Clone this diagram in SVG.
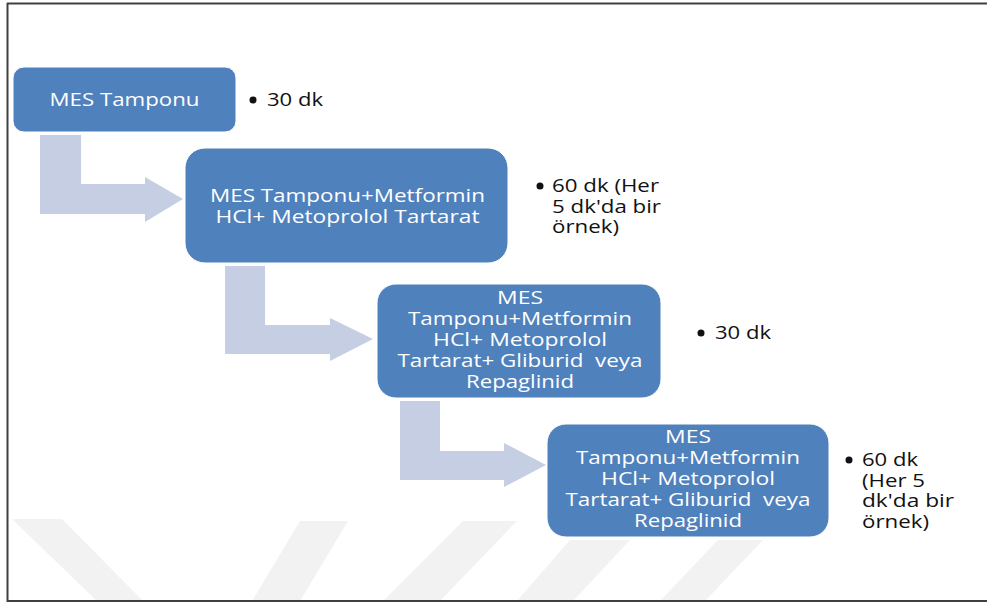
<svg xmlns="http://www.w3.org/2000/svg" width="987" height="603" viewBox="0 0 987 603">
<style>
  .box { fill: #4F81BD; stroke: #FFFFFF; stroke-width: 1; }
  .arrow { fill: #C5CEE2; stroke: none; }
  .bt { font-family: "Open Sans", "DejaVu Sans", sans-serif; font-size: 19px; fill: #FFFFFF; text-anchor: middle; white-space: pre; }
  .lt { font-family: "Open Sans", "DejaVu Sans", sans-serif; font-size: 19px; fill: #111111; white-space: pre; }
  .dot { fill: #111111; }
  .wm { fill: #F2F2F2; }
  .frame { stroke: #404040; stroke-width: 2; fill: none; }
</style>
<rect x="0" y="0" width="987" height="603" fill="#FFFFFF"/>
<g id="watermark">
  <polygon class="wm" points="12,519 62,519 143,601 97,601"/>
  <polygon class="wm" points="300,521 348,521 300,601 252,601"/>
  <polygon class="wm" points="463,521 517,521 440,601 383,601"/>
  <polygon class="wm" points="570,540 630,540 573,601 517,601"/>
  <polygon class="wm" points="718,540 763,540 705,601 660,601"/>
</g>
<g id="frame">
  <line class="frame" x1="7" y1="3.5" x2="987" y2="3.5"/>
  <line class="frame" x1="7.5" y1="3" x2="7.5" y2="602"/>
  <line class="frame" x1="7" y1="601" x2="987" y2="601"/>
</g>
<g id="connectors">
  <polygon class="arrow" points="40,135 81,135 81,184 145,184 145,177 183,199 145,222 145,214 40,214"/>
  <polygon class="arrow" points="225,266 265,266 265,325 330,325 330,318 373,339 330,361 330,354 225,354"/>
  <polygon class="arrow" points="400,401 440,401 440,451 504,451 504,443 546,465 504,487 504,480 400,480"/>
</g>
<g id="node1">
  <rect class="box" x="13" y="67" width="223" height="65" rx="11" ry="11"/>
  <text class="bt" x="124.5" y="106" textLength="150" lengthAdjust="spacingAndGlyphs">MES Tamponu</text>
</g>
<g id="node2">
  <rect class="box" x="185" y="148" width="323" height="115" rx="20" ry="20"/>
  <text class="bt" x="347.5" y="202" textLength="275" lengthAdjust="spacingAndGlyphs">MES Tamponu+Metformin</text>
  <text class="bt" x="347.5" y="223" textLength="264" lengthAdjust="spacingAndGlyphs">HCl+ Metoprolol Tartarat</text>
</g>
<g id="node3">
  <rect class="box" x="377" y="284" width="284" height="114" rx="19" ry="19"/>
  <text class="bt" x="520" y="304" textLength="46" lengthAdjust="spacingAndGlyphs">MES</text>
  <text class="bt" x="520" y="325" textLength="224" lengthAdjust="spacingAndGlyphs">Tamponu+Metformin</text>
  <text class="bt" x="520" y="346" textLength="174" lengthAdjust="spacingAndGlyphs">HCl+ Metoprolol</text>
  <text class="bt" x="520" y="367" textLength="245" lengthAdjust="spacingAndGlyphs">Tartarat+ Gliburid  veya</text>
  <text class="bt" x="520" y="388" textLength="108" lengthAdjust="spacingAndGlyphs">Repaglinid</text>
</g>
<g id="node4">
  <rect class="box" x="547" y="424" width="282" height="113" rx="19" ry="19"/>
  <text class="bt" x="688" y="443" textLength="46" lengthAdjust="spacingAndGlyphs">MES</text>
  <text class="bt" x="688" y="464" textLength="224" lengthAdjust="spacingAndGlyphs">Tamponu+Metformin</text>
  <text class="bt" x="688" y="485" textLength="174" lengthAdjust="spacingAndGlyphs">HCl+ Metoprolol</text>
  <text class="bt" x="688" y="506" textLength="245" lengthAdjust="spacingAndGlyphs">Tartarat+ Gliburid  veya</text>
  <text class="bt" x="688" y="527" textLength="108" lengthAdjust="spacingAndGlyphs">Repaglinid</text>
</g>
<g id="note1">
  <circle class="dot" cx="253" cy="100" r="3.5"/>
  <text class="lt" x="267" y="106" textLength="56" lengthAdjust="spacingAndGlyphs">30 dk</text>
</g>
<g id="note2">
  <circle class="dot" cx="540" cy="186" r="3.5"/>
  <text class="lt" x="552" y="192" textLength="107" lengthAdjust="spacingAndGlyphs">60 dk (Her</text>
  <text class="lt" x="552" y="213" textLength="109" lengthAdjust="spacingAndGlyphs">5 dk'da bir</text>
  <text class="lt" x="552" y="233" textLength="67" lengthAdjust="spacingAndGlyphs">örnek)</text>
</g>
<g id="note3">
  <circle class="dot" cx="701" cy="333" r="3.5"/>
  <text class="lt" x="715" y="339" textLength="56" lengthAdjust="spacingAndGlyphs">30 dk</text>
</g>
<g id="note4">
  <circle class="dot" cx="849" cy="460" r="3.5"/>
  <text class="lt" x="862" y="466" textLength="56" lengthAdjust="spacingAndGlyphs">60 dk</text>
  <text class="lt" x="862" y="487" textLength="63" lengthAdjust="spacingAndGlyphs">(Her 5</text>
  <text class="lt" x="862" y="507" textLength="92" lengthAdjust="spacingAndGlyphs">dk'da bir</text>
  <text class="lt" x="862" y="528" textLength="67" lengthAdjust="spacingAndGlyphs">örnek)</text>
</g>
</svg>
